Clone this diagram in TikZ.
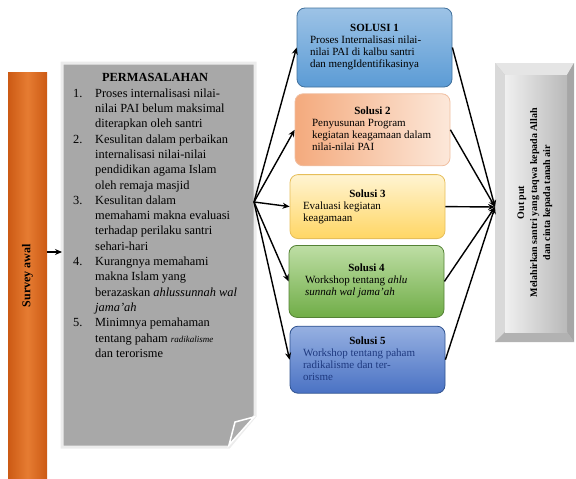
\documentclass[tikz,border=0pt]{standalone}
\usepackage{fontspec}
\setmainfont{Liberation Serif}
\usetikzlibrary{positioning,arrows.meta}
\definecolor{barO}{HTML}{CC5A14}
\definecolor{barL}{HTML}{E67C32}
\definecolor{paper}{HTML}{A8A8A8}
\definecolor{navy}{HTML}{1F3A80}
\tikzset{
  arr/.style={->,line width=1.4pt},
  solusi/.style={draw,rounded corners=8pt,line width=0.8pt,minimum width=155pt,inner sep=0pt,
    font=\fontsize{11}{12}\selectfont},
  ssatu/.style={solusi,top color={rgb,255:red,157;green,195;blue,230},bottom color={rgb,255:red,91;green,155;blue,213},draw={rgb,255:red,65;green,113;blue,156}},
  sdua/.style={solusi,left color={rgb,255:red,244;green,170;blue,125},right color={rgb,255:red,252;green,232;blue,218},draw={rgb,255:red,240;green,190;blue,160}},
  stiga/.style={solusi,top color={rgb,255:red,255;green,244;blue,210},bottom color={rgb,255:red,255;green,214;blue,100},draw={rgb,255:red,230;green,190;blue,90}},
  sempat/.style={solusi,top color={rgb,255:red,190;green,222;blue,165},bottom color={rgb,255:red,112;green,173;blue,71},draw={rgb,255:red,84;green,130;blue,53}},
  slima/.style={solusi,top color={rgb,255:red,150;green,176;blue,225},bottom color={rgb,255:red,74;green,114;blue,196},draw={rgb,255:red,47;green,82;blue,143}},
}
\newcommand{\sol}[2]{\begin{tabular}{@{}p{129pt}@{}}\multicolumn{1}{@{}c@{}}{\textbf{#1}}\\#2\end{tabular}}
\begin{document}
\begin{tikzpicture}[x=1pt,y=1pt,>={Stealth[length=7pt,width=6pt]}]
  \useasboundingbox (0,0) rectangle (576,-479);

  \node [minimum width=39pt,minimum height=407pt,inner sep=0pt,left color=barO,right color=barO,middle color=barL,
    font=\fontsize{12}{14}\selectfont] (bar) at (27.5,-275.5) {\rotatebox{90}{\textbf{Survey awal}}};

  \filldraw [fill=paper,draw=gray!15,line width=3pt] (62,-63) -- (255,-63) -- (255,-416) -- (229,-447) -- (62,-447) -- cycle;
  \filldraw [fill=gray!65,draw=white,line width=1.5pt] (229,-445) -- (235,-422) -- (254,-417) -- cycle;
  \node [anchor=north west,inner sep=0pt,font=\fontsize{12.4}{15.3}\selectfont] (masalah) at (73,-71) {%
    \begin{tabular}{@{}p{22pt}@{}l@{}}
    \multicolumn{2}{c}{\textbf{PERMASALAHAN}}\\
    1. & Proses internalisasi nilai-\\ & nilai PAI belum maksimal\\ & diterapkan oleh santri\\
    2. & Kesulitan dalam perbaikan\\ & internalisasi nilai-nilai\\ & pendidikan agama Islam\\ & oleh remaja masjid\\
    3. & Kesulitan dalam\\ & memahami makna evaluasi\\ & terhadap perilaku santri\\ & sehari-hari\\
    4. & Kurangnya memahami\\ & makna Islam yang\\ & berazaskan \textit{ahlussunnah wal}\\ & \textit{jama'ah}\\
    5. & Minimnya pemahaman\\ & tentang paham \textit{\small radikalisme}\\ & dan terorisme
    \end{tabular}};
  \coordinate (fan) at (254,-202);
  \draw [arr] (bar.east |- 0,-252) -- (62,-252);

  \node [ssatu,minimum height=79pt] (s1) at (374.5,-47.5)
    {\sol{SOLUSI 1}{Proses Internalisasi nilai-\\nilai PAI di kalbu santri\\dan mengIdentifikasinya}\rule[-6pt]{0pt}{6pt}};
  \node [sdua,minimum height=72pt,below=6pt of s1,xshift=-2pt] (s2)
    {\sol{Solusi 2}{\hspace*{4pt}Penyusunan Program\\\hspace*{4pt}kegiatan keagamaan dalam\\\hspace*{4pt}nilai-nilai PAI}\rule[-6pt]{0pt}{6pt}};
  \node [stiga,minimum height=64pt,below=8pt of s2,xshift=-5pt] (s3)
    {\sol{Solusi 3}{Evaluasi kegiatan\\keagamaan}\rule[-14pt]{0pt}{14pt}};
  \node [sempat,minimum height=72pt,below=6pt of s3,xshift=-1pt] (s4)
    {\sol{Solusi 4}{\hspace*{3pt}Workshop tentang \textit{ahlu}\\\hspace*{3pt}\textit{sunnah wal jama'ah}}\rule[-16pt]{0pt}{16pt}};
  \node [slima,minimum height=67pt,below=8pt of s4,xshift=1pt] (s5)
    {\color{navy}\sol{\color{black}Solusi 5}{Workshop tentang paham\\radikalisme dan ter-\\orisme}};

  \node [minimum width=79pt,minimum height=279pt,inner sep=0pt,font=\bfseries\fontsize{10}{13}\selectfont,
    path picture={
      \coordinate (a) at (path picture bounding box.north west);
      \coordinate (b) at (path picture bounding box.north east);
      \coordinate (c) at (path picture bounding box.south east);
      \coordinate (d) at (path picture bounding box.south west);
      \fill [gray!45] (a) rectangle (c);
      \fill [gray!20] (a) -- (b) -- ([shift={(-7pt,-12pt)}]b) -- ([shift={(10pt,-12pt)}]a) -- cycle;
      \fill [gray!30] (a) -- (d) -- ([shift={(10pt,10pt)}]d) -- ([shift={(10pt,-12pt)}]a) -- cycle;
      \fill [gray!70] (b) -- (c) -- ([shift={(-7pt,10pt)}]c) -- ([shift={(-7pt,-12pt)}]b) -- cycle;
      \fill [gray!60] (d) -- (c) -- ([shift={(-7pt,10pt)}]c) -- ([shift={(10pt,10pt)}]d) -- cycle;
      \shade [left color=gray!12,right color=gray!55] ([shift={(10pt,-12pt)}]a) rectangle ([shift={(-7pt,10pt)}]c);
    }] (out) at (534.5,-202.5)
    {\rotatebox{90}{\begin{tabular}{@{}c@{}}Out put\\Melahirkan santri yang taqwa kepada Allah\\dan cinta kepada tanah air\end{tabular}}};
  \coordinate (conv) at (495,-207);

  \foreach \s in {s1,s2,s3,s4,s5} {
    \draw [arr] (fan) -- (\s.west);
    \draw [arr] (\s.east) -- (conv);
  }
\end{tikzpicture}
\end{document}
